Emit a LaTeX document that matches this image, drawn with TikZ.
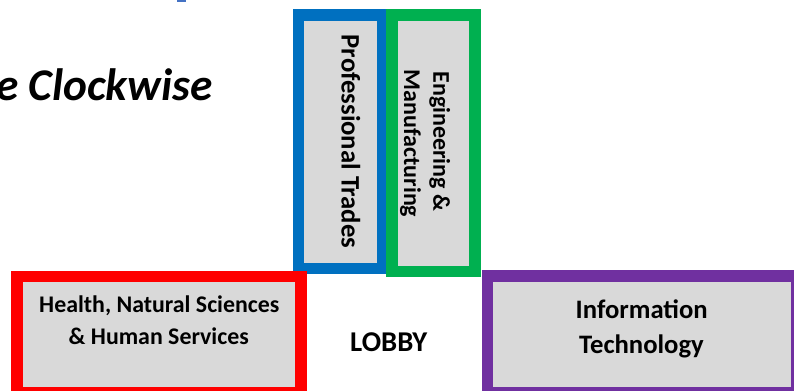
\documentclass[tikz,border=0pt]{standalone}
\usepackage{fontspec}
\setmainfont{Carlito}
\definecolor{bblue}{HTML}{0070C0}
\definecolor{bgreen}{HTML}{00B050}
\definecolor{bred}{HTML}{FF0000}
\definecolor{bpurple}{HTML}{7030A0}
\definecolor{boxgray}{HTML}{D9D9D9}
\definecolor{fragblue}{HTML}{4472C4}
\begin{document}
\begin{tikzpicture}[x=0.75pt,y=-0.75pt,
  box/.style={draw=#1, line width=8.625pt, fill=boxgray, inner sep=0pt, outer sep=0pt},
  lbl/.style={font=\bfseries\fontsize{#1}{#1}\selectfont, inner sep=0pt, anchor=base}]
\useasboundingbox (0,0) rectangle (794,390);
\clip (0,0) rectangle (794,390);
% title fragment
\fill[fragblue] (177.3,0) rectangle (186,2.3);
\node[font=\bfseries\itshape\fontsize{34pt}{34pt}\selectfont, anchor=base east, inner sep=0pt] (title) at (213,100) {e Clockwise};
% boxes
\node[box=bblue, minimum width=62.85pt, minimum height=190.1pt] (prof) at (340.35,141.8) {};
\node[box=bgreen, minimum width=62.4pt, minimum height=192.4pt] (eng) at (433.35,143.3) {};
\node[box=bred, minimum width=213.15pt, minimum height=86.8pt] (health) at (158.85,334.6) {};
\node[box=bpurple, minimum width=231.75pt, minimum height=87.5pt] (info) at (641.95,334.1) {};
% labels
\node[lbl=20pt, rotate=-90] (proft) at (341.7,141.5) {Professional Trades};
\node[lbl=18pt, rotate=-90] (engt1) at (433.3,141.5) {Engineering \&};
\node[lbl=18pt, rotate=-90] (engt2) at (404,143.5) {Manufacturing};
\node[lbl=17.9pt] (healtht1) at (159.3,312.7) {Health, Natural Sciences};
\node[lbl=17.9pt] (healtht2) at (158.8,344.3) {\& Human Services};
\node[lbl=20pt] (infot1) at (641.7,318) {Information};
\node[lbl=20pt] (infot2) at (641.5,353) {Technology};
\node[lbl=21.5pt] (lobby) at (388.7,351.7) {LOBBY};
\end{tikzpicture}
\end{document}
